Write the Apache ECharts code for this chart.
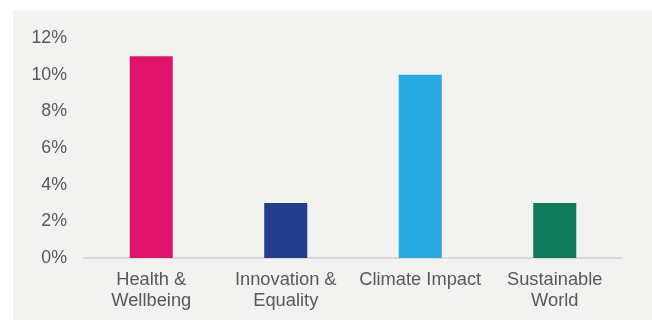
<!DOCTYPE html>
<html>
<head>
<meta charset="utf-8">
<script src="https://cdn.jsdelivr.net/npm/echarts@6/dist/echarts.min.js"></script>
<style>
html,body{margin:0;padding:0;background:#ffffff;}
#chart{width:652px;height:320px;}
</style>
</head>
<body>
<div id="chart"></div>
<script>
const categories = ['Health &\nWellbeing', 'Innovation &\nEquality', 'Climate Impact', 'Sustainable\nWorld'];
const values = [11, 3, 10, 3];
const barColors = ['#E0136A', '#233E8C', '#29AAE2', '#0E7A59'];
const yTicks = { min: 0, max: 12, interval: 2 };

const chart = echarts.init(document.getElementById('chart'), null, { renderer: 'canvas' });
chart.setOption({
  animation: false,
  backgroundColor: '#ffffff',
  graphic: [{
    type: 'rect', left: 13, top: 10, z: -10, silent: true,
    shape: { width: 639, height: 310 },
    style: { fill: '#f2f2f1' }
  }],
  grid: { left: 84, right: 30, top: 38, bottom: 62, containLabel: false },
  xAxis: {
    type: 'category',
    data: categories,
    axisLine: { show: true, lineStyle: { color: '#d9d9d9', width: 2 } },
    axisTick: { show: false },
    axisLabel: {
      color: '#595959', fontFamily: 'Liberation Sans, Arial, sans-serif',
      fontSize: 18.3, lineHeight: 21.5, margin: 11, interval: 0
    }
  },
  yAxis: {
    type: 'value',
    min: yTicks.min, max: yTicks.max, interval: yTicks.interval,
    splitLine: { show: false },
    axisLine: { show: false },
    axisTick: { show: false },
    axisLabel: {
      formatter: '{value}%', color: '#595959',
      fontFamily: 'Liberation Sans, Arial, sans-serif',
      fontSize: 17.8, margin: 17, padding: [3, 0, 0, 0]
    }
  },
  series: [{
    type: 'bar',
    data: values.map((v, i) => ({ value: v, itemStyle: { color: barColors[i] } })),
    barWidth: '32%'
  }]
});
</script>
</body>
</html>
